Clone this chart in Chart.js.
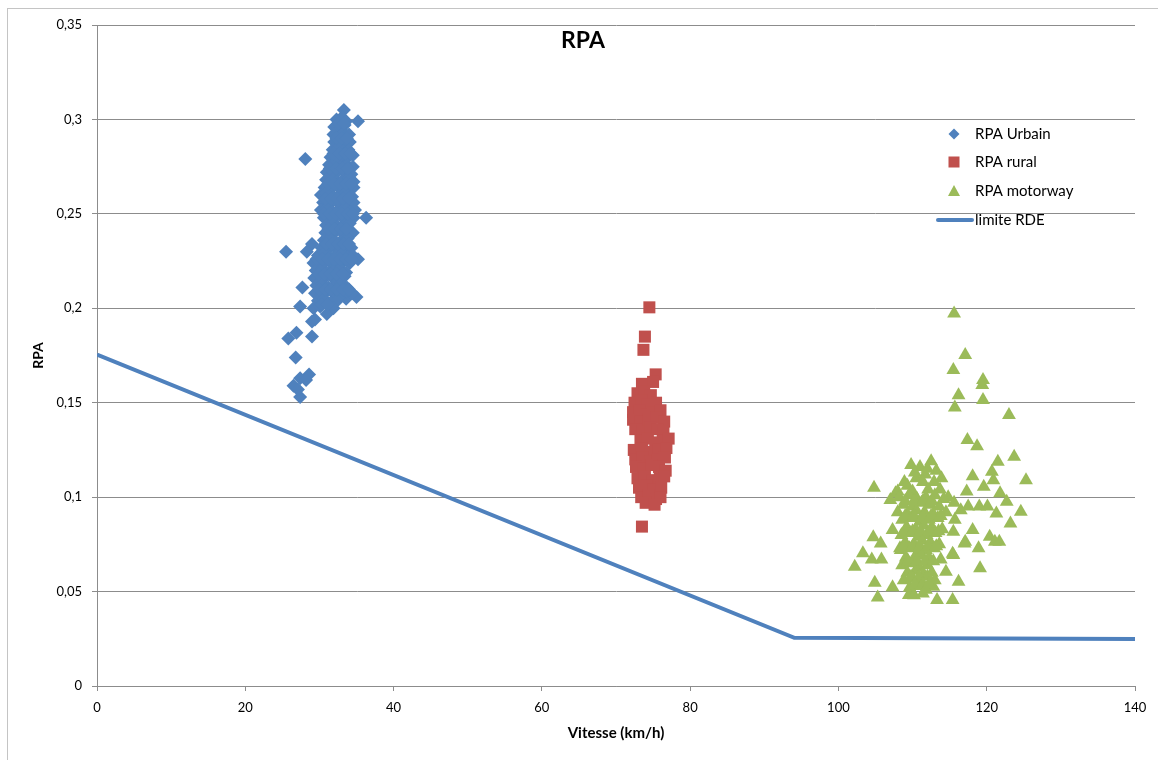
<!DOCTYPE html>
<html lang="fr">
<head>
<meta charset="utf-8">
<title>RPA</title>
<script src="https://cdn.jsdelivr.net/npm/chart.js@4.4.1/dist/chart.umd.min.js"></script>
<style>
  body { margin: 0; background: #fff; }
  #quadro { position: relative; width: 1158px; height: 760px; overflow: hidden; }
  #borda { position: absolute; left: 7px; top: 8px; width: 1200px; height: 800px;
           border-top: 1px solid #c4c4c4; border-left: 1px solid #c4c4c4; }
  canvas { position: absolute; left: 0; top: 0; }
</style>
</head>
<body>
<div id="quadro">
  <div id="borda"></div>
  <canvas id="grafico-rpa" width="1158" height="760"></canvas>
</div>
<script>
// Textos
const tituloGrafico = 'RPA';
const tituloEixoX = 'Vitesse (km/h)';
const tituloEixoY = 'RPA';
const nomesSeries = ['RPA Urbain', 'RPA rural', 'RPA motorway', 'limite RDE'];

// Ticks
const xTicks = [0, 20, 40, 60, 80, 100, 120, 140];
const yTicks = [0, 0.05, 0.1, 0.15, 0.2, 0.25, 0.3, 0.35];
const yTickLabels = ['0', '0,05', '0,1', '0,15', '0,2', '0,25', '0,3', '0,35'];

// Pontos [vitesse, RPA]
const urbain = [
  [33.3, 0.305], [35.2, 0.299], [28.1, 0.279], [36.3, 0.248], [25.5, 0.230],
  [27.7, 0.211], [27.4, 0.201], [25.8, 0.184], [26.9, 0.187], [29.0, 0.185],
  [26.8, 0.174], [28.6, 0.165], [27.4, 0.163], [26.5, 0.159], [27.4, 0.153],
  [27.1, 0.157], [28.2, 0.162], [35.0, 0.206], [33.6, 0.205], [35.2, 0.226],
  [31.0, 0.197], [29.4, 0.194], [29.0, 0.193], [29.0, 0.234], [28.3, 0.230],
  [32.3, 0.300], [33.0, 0.301], [33.6, 0.299],
  [32.0, 0.296], [32.7, 0.295], [33.4, 0.297],
  [31.9, 0.292], [32.6, 0.291], [33.3, 0.293], [34.0, 0.292],
  [32.0, 0.288], [32.8, 0.287], [33.5, 0.289], [34.1, 0.288],
  [31.8, 0.284], [32.5, 0.285], [33.2, 0.283], [33.9, 0.284],
  [31.5, 0.280], [32.3, 0.281], [33.0, 0.279], [33.8, 0.280], [34.5, 0.281],
  [31.3, 0.276], [32.1, 0.277], [32.9, 0.275], [33.7, 0.276], [34.5, 0.275],
  [31.0, 0.272], [31.8, 0.271], [32.6, 0.273], [33.4, 0.272], [34.3, 0.271],
  [30.9, 0.268], [31.6, 0.269], [32.4, 0.267], [33.2, 0.268], [34.0, 0.269], [34.6, 0.267],
  [30.7, 0.264], [31.5, 0.263], [32.3, 0.265], [33.1, 0.264], [33.9, 0.263], [34.6, 0.264],
  [30.2, 0.260], [31.0, 0.261], [31.9, 0.259], [32.7, 0.260], [33.5, 0.261], [34.4, 0.259],
  [30.5, 0.256], [31.3, 0.255], [32.2, 0.257], [33.0, 0.256], [33.9, 0.255], [34.6, 0.256],
  [30.2, 0.252], [31.0, 0.253], [31.8, 0.251], [32.6, 0.252], [33.4, 0.253], [34.2, 0.251], [34.8, 0.252],
  [30.6, 0.248], [31.4, 0.247], [32.3, 0.249], [33.1, 0.248], [33.9, 0.247], [34.6, 0.248],
  [30.9, 0.244], [31.7, 0.245], [32.5, 0.243], [33.3, 0.244], [34.1, 0.245],
  [30.8, 0.240], [31.5, 0.239], [32.3, 0.241], [33.1, 0.240], [33.9, 0.239], [34.5, 0.240],
  [30.6, 0.236], [31.4, 0.237], [32.2, 0.235], [33.0, 0.236], [33.8, 0.237],
  [30.3, 0.232], [31.1, 0.231], [31.9, 0.233], [32.7, 0.232], [33.5, 0.231], [34.3, 0.232],
  [29.8, 0.228], [30.6, 0.229], [31.4, 0.227], [32.2, 0.228], [33.0, 0.229], [33.8, 0.227], [34.5, 0.228],
  [29.2, 0.224], [30.0, 0.223], [30.9, 0.225], [31.7, 0.224], [32.5, 0.223], [33.3, 0.225], [34.1, 0.224],
  [29.5, 0.220], [30.4, 0.221], [31.2, 0.219], [32.0, 0.220], [32.8, 0.221], [33.6, 0.219],
  [29.3, 0.216], [30.1, 0.215], [30.9, 0.217], [31.8, 0.216], [32.6, 0.215], [33.4, 0.217],
  [29.6, 0.212], [30.4, 0.213], [31.2, 0.211], [32.0, 0.212], [32.9, 0.213], [33.7, 0.211],
  [29.4, 0.208], [30.2, 0.207], [31.0, 0.209], [31.9, 0.208], [32.8, 0.207], [33.6, 0.209], [34.4, 0.208],
  [29.8, 0.204], [30.6, 0.205], [31.5, 0.203], [32.4, 0.204],
  [29.2, 0.200], [30.1, 0.201], [31.9, 0.200],
  [32.6, 0.298], [33.3, 0.298],
  [32.3, 0.290], [33.0, 0.290], [33.7, 0.290],
  [31.9, 0.282], [32.7, 0.282], [33.5, 0.282], [34.2, 0.282],
  [31.4, 0.274], [32.2, 0.274], [33.0, 0.274], [33.8, 0.274],
  [31.2, 0.266], [32.0, 0.266], [32.8, 0.266], [33.6, 0.266], [34.3, 0.266],
  [30.8, 0.258], [31.6, 0.258], [32.4, 0.258], [33.2, 0.258], [34.0, 0.258],
  [30.6, 0.250], [31.4, 0.250], [32.2, 0.250], [33.0, 0.250], [33.8, 0.250], [34.5, 0.250],
  [31.2, 0.242], [32.0, 0.242], [32.8, 0.242], [33.6, 0.242],
  [30.9, 0.234], [31.7, 0.234], [32.5, 0.234], [33.3, 0.234], [34.0, 0.234],
  [29.6, 0.226], [30.4, 0.226], [31.2, 0.226], [32.0, 0.226], [32.8, 0.226], [33.6, 0.226], [34.3, 0.226],
  [29.9, 0.218], [30.7, 0.218], [31.5, 0.218], [32.3, 0.218], [33.1, 0.218],
  [30.0, 0.210], [30.8, 0.210], [31.6, 0.210], [32.4, 0.210], [33.2, 0.210], [34.0, 0.210],
  [30.3, 0.202], [31.1, 0.202]
];

const rural = [
  [74.5, 0.2005], [73.9, 0.185], [73.7, 0.178], [75.35, 0.165], [73.5, 0.0844],
  [73.5, 0.160], [75.0, 0.161],
  [72.9, 0.155], [73.8, 0.156], [74.7, 0.154],
  [72.5, 0.150], [73.4, 0.151], [74.3, 0.149], [75.4, 0.150],
  [72.3, 0.145], [73.2, 0.146], [74.1, 0.144], [75.0, 0.145], [76.0, 0.146],
  [72.3, 0.141], [73.3, 0.140], [74.4, 0.141], [75.5, 0.142], [76.5, 0.140],
  [72.6, 0.136], [73.6, 0.135], [74.6, 0.137], [75.6, 0.136], [76.4, 0.135],
  [73.3, 0.130], [74.3, 0.131], [75.3, 0.129], [76.3, 0.130], [77.1, 0.131],
  [72.4, 0.125], [73.5, 0.126], [74.6, 0.124], [75.7, 0.125], [76.8, 0.126],
  [72.6, 0.120], [73.6, 0.121], [74.6, 0.119], [75.6, 0.120], [76.6, 0.121],
  [72.7, 0.116], [73.7, 0.115], [74.8, 0.117], [75.8, 0.116], [76.7, 0.114],
  [72.9, 0.110], [73.9, 0.111], [74.9, 0.109], [75.9, 0.110], [76.5, 0.111],
  [73.1, 0.105], [74.1, 0.106], [75.1, 0.104], [76.1, 0.105],
  [73.4, 0.100], [74.4, 0.101], [75.4, 0.099], [76.0, 0.100],
  [74.0, 0.097], [75.2, 0.096]
];

const motorway = [
  [115.6, 0.1973], [117.1, 0.1753], [115.5, 0.1673], [119.5, 0.162], [119.4, 0.1594],
  [116.2, 0.154], [119.5, 0.1514], [115.7, 0.1475], [123.0, 0.1435], [117.4, 0.1303],
  [118.7, 0.127], [123.7, 0.1214], [121.5, 0.1188], [125.3, 0.109], [104.8, 0.105],
  [120.7, 0.1135], [120.9, 0.109], [118.1, 0.111], [119.6, 0.1055], [117.3, 0.103],
  [121.8, 0.102], [122.7, 0.0976], [124.6, 0.0923], [123.2, 0.0861], [121.3, 0.0914],
  [119.0, 0.095], [117.5, 0.095], [116.5, 0.093], [118.1, 0.0826], [118.9, 0.073],
  [117.1, 0.0764], [120.4, 0.079], [121.1, 0.0764], [119.1, 0.0623], [115.5, 0.0694],
  [114.5, 0.0605], [116.2, 0.0552], [115.4, 0.0455], [113.3, 0.0455], [112.8, 0.0526],
  [109.5, 0.0482], [107.3, 0.0523], [105.3, 0.0468], [104.9, 0.0547], [102.2, 0.0632],
  [103.3, 0.0703], [104.5, 0.067], [105.8, 0.067], [104.7, 0.0787], [105.7, 0.0755],
  [107.3, 0.0826], [108.3, 0.073], [107.0, 0.0985], [107.7, 0.102], [115.5, 0.0817],
  [115.7, 0.088], [120.1, 0.095], [121.7, 0.0764], [117.0, 0.0755], [115.4, 0.070],
  [109.8, 0.117], [111.0, 0.116], [112.5, 0.119], [110.5, 0.110], [111.7, 0.112],
  [112.9, 0.108], [113.7, 0.104], [114.8, 0.100], [115.6, 0.097], [109.3, 0.106],
  [108.0, 0.103], [113.2, 0.114],
  [110.3, 0.113], [111.4, 0.108], [112.1, 0.104], [110.0, 0.103], [113.9, 0.110],
  [112.0, 0.115], [108.9, 0.108],
  [108.2, 0.100], [109.5, 0.101], [110.6, 0.099], [111.8, 0.100], [113.0, 0.101], [114.2, 0.099],
  [108.8, 0.096], [110.0, 0.095], [111.2, 0.097], [112.4, 0.096], [113.6, 0.095],
  [108.0, 0.092], [109.3, 0.091], [110.5, 0.093], [111.6, 0.092], [112.8, 0.091], [114.5, 0.092],
  [108.6, 0.088], [109.8, 0.089], [111.0, 0.087], [112.2, 0.088], [113.4, 0.089],
  [109.2, 0.084], [110.4, 0.083], [111.5, 0.085], [112.6, 0.084], [114.0, 0.083],
  [108.5, 0.080], [109.7, 0.081], [110.8, 0.079], [111.9, 0.080], [113.1, 0.081],
  [109.0, 0.076], [110.2, 0.075], [111.3, 0.077], [112.4, 0.076], [113.6, 0.075],
  [108.4, 0.072], [109.6, 0.073], [110.7, 0.071], [111.8, 0.072], [112.9, 0.073],
  [109.1, 0.068], [110.2, 0.067], [111.2, 0.069], [112.2, 0.068], [113.8, 0.067],
  [108.6, 0.064], [109.8, 0.065], [110.9, 0.063], [112.0, 0.064],
  [109.3, 0.060], [110.4, 0.061], [111.5, 0.059], [112.6, 0.060],
  [108.8, 0.056], [110.0, 0.057], [111.1, 0.055], [113.0, 0.056],
  [109.6, 0.052], [110.7, 0.053], [111.8, 0.051],
  [110.2, 0.048], [111.4, 0.049],
  [109.0, 0.098], [110.2, 0.098], [111.4, 0.098], [112.6, 0.098],
  [109.0, 0.090], [110.2, 0.090], [111.4, 0.090], [112.5, 0.090], [113.8, 0.090],
  [108.9, 0.082], [110.0, 0.082], [111.1, 0.082], [112.3, 0.082], [113.5, 0.082],
  [108.8, 0.074], [110.0, 0.074], [111.0, 0.074], [112.1, 0.074], [113.2, 0.074],
  [109.4, 0.066], [110.6, 0.066], [111.7, 0.066], [112.8, 0.066],
  [109.8, 0.058], [110.9, 0.058], [112.0, 0.058],
  [110.3, 0.054], [111.4, 0.054], [112.2, 0.054]
];

// Limite RDE
const limiteVitesse = [0, 94.05, 140];
const limiteRPA = [0.1755, 0.0255, 0.0249];

const corUrbain = '#4F81BD';
const corRural = '#C0504D';
const corMotorway = '#9BBB59';
const corLimite = '#4F81BD';
const corGrade = '#8c8c8c';
const fonte = 'Lato, "Open Sans", sans-serif';

function paraPontos(lista) {
  return lista.map(p => ({ x: p[0], y: p[1] }));
}

// Título e legenda desenhados dentro da área do gráfico
const tituloELegenda = {
  id: 'tituloELegenda',
  afterDraw(chart) {
    const ctx = chart.ctx;
    ctx.save();
    ctx.fillStyle = '#000';
    ctx.textBaseline = 'middle';
    ctx.textAlign = 'center';
    ctx.font = 'bold 23px ' + fonte;
    ctx.fillText(tituloGrafico, 583, 41);

    ctx.textAlign = 'left';
    ctx.font = '15px ' + fonte;
    const xm = 954, xt = 975;
    const linhas = [134, 162, 191, 220];

    // losango
    ctx.fillStyle = corUrbain;
    ctx.beginPath();
    ctx.moveTo(xm, linhas[0] - 5.5); ctx.lineTo(xm + 5.5, linhas[0]);
    ctx.lineTo(xm, linhas[0] + 5.5); ctx.lineTo(xm - 5.5, linhas[0]);
    ctx.closePath(); ctx.fill();
    // quadrado
    ctx.fillStyle = corRural;
    ctx.fillRect(xm - 5.5, linhas[1] - 5.5, 11, 11);
    // triângulo
    ctx.fillStyle = corMotorway;
    ctx.beginPath();
    ctx.moveTo(xm, linhas[2] - 6); ctx.lineTo(xm + 6, linhas[2] + 5);
    ctx.lineTo(xm - 6, linhas[2] + 5);
    ctx.closePath(); ctx.fill();
    // linha
    ctx.strokeStyle = corLimite;
    ctx.lineWidth = 4;
    ctx.lineCap = 'round';
    ctx.beginPath();
    ctx.moveTo(938, linhas[3]); ctx.lineTo(972, linhas[3]);
    ctx.stroke();

    ctx.fillStyle = '#000';
    nomesSeries.forEach((nome, i) => ctx.fillText(nome, xt, linhas[i]));
    ctx.restore();
  }
};

new Chart(document.getElementById('grafico-rpa').getContext('2d'), {
  type: 'scatter',
  data: {
    datasets: [{
      label: nomesSeries[0],
      data: paraPontos(urbain),
      pointStyle: 'rectRot',
      pointRadius: 7,
      backgroundColor: corUrbain,
      borderColor: corUrbain,
      borderWidth: 0
    }, {
      label: nomesSeries[1],
      data: paraPontos(rural),
      pointStyle: 'rect',
      pointRadius: 8.5,
      backgroundColor: corRural,
      borderColor: corRural,
      borderWidth: 0
    }, {
      label: nomesSeries[2],
      data: paraPontos(motorway),
      pointStyle: 'triangle',
      pointRadius: 8,
      backgroundColor: corMotorway,
      borderColor: corMotorway,
      borderWidth: 0
    }, {
      label: nomesSeries[3],
      data: limiteVitesse.map((v, i) => ({ x: v, y: limiteRPA[i] })),
      showLine: true,
      pointRadius: 0,
      borderColor: corLimite,
      borderWidth: 4,
      backgroundColor: corLimite
    }]
  },
  options: {
    responsive: false,
    animation: false,
    events: [],
    layout: { padding: { top: 25, right: 23, left: 0, bottom: 0 } },
    plugins: {
      legend: { display: false },
      title: { display: false },
      tooltip: { enabled: false }
    },
    scales: {
      x: {
        type: 'linear',
        min: 0,
        max: 140,
        afterFit(scale) { scale.height = 74; },
        afterBuildTicks(scale) { scale.ticks = xTicks.map(v => ({ value: v })); },
        grid: { drawOnChartArea: false, drawTicks: true, tickLength: 5, color: corGrade },
        border: { display: true, color: corGrade },
        ticks: {
          padding: 9,
          color: '#000',
          font: { family: fonte, size: 13 },
          callback: v => String(v)
        },
        title: {
          display: true,
          text: tituloEixoX,
          color: '#000',
          font: { family: fonte, size: 15, weight: 'bold' },
          padding: { top: 0, bottom: 18 }
        }
      },
      y: {
        type: 'linear',
        min: 0,
        max: 0.35,
        afterFit(scale) { scale.width = 97; },
        afterBuildTicks(scale) { scale.ticks = yTicks.map(v => ({ value: v })); },
        grid: { drawTicks: true, tickLength: 5, color: corGrade },
        border: { display: true, color: corGrade },
        ticks: {
          padding: 10,
          color: '#000',
          font: { family: fonte, size: 13 },
          callback: (v, i) => yTickLabels[i]
        },
        title: {
          display: true,
          text: tituloEixoY,
          color: '#000',
          font: { family: fonte, size: 14, weight: 'bold' },
          padding: { top: 30, bottom: 0 }
        }
      }
    }
  },
  plugins: [tituloELegenda]
});
</script>
</body>
</html>
